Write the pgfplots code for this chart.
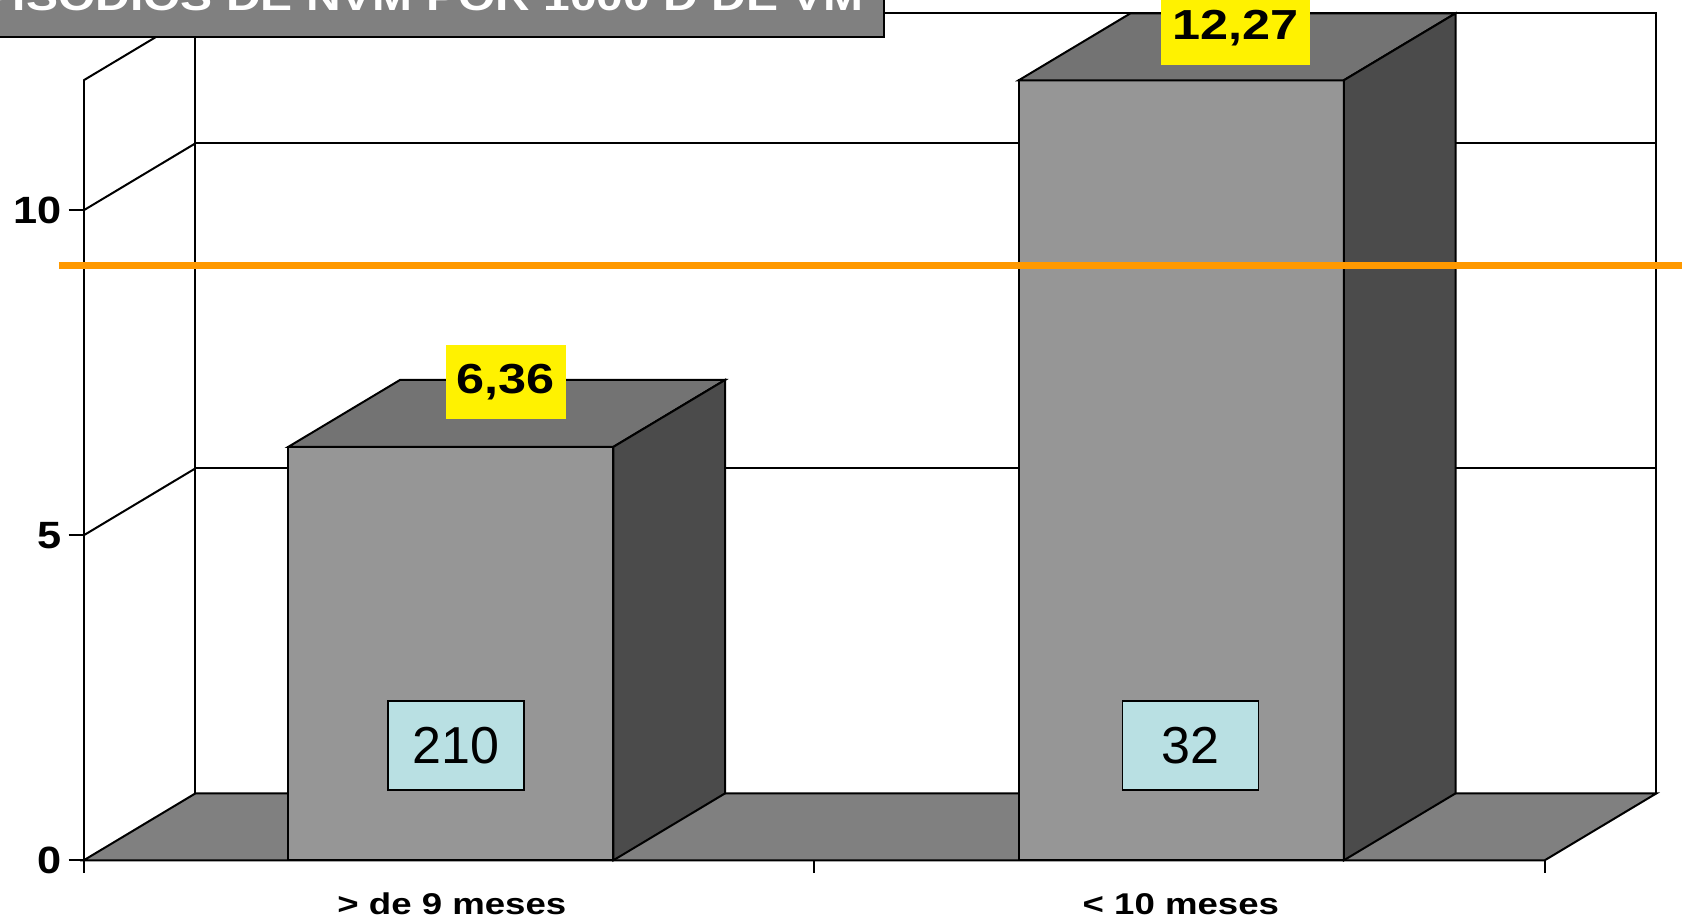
\documentclass[border=0pt]{standalone}
\usepackage{fontspec}
\setmainfont{Liberation Sans}
\usepackage{graphicx}
\usepackage{pgfplots}
\pgfplotsset{compat=1.18}
\definecolor{barfront}{RGB}{150,150,150}
\definecolor{bartop}{RGB}{115,115,115}
\definecolor{barside}{RGB}{75,75,75}
\definecolor{floorc}{RGB}{128,128,128}
\definecolor{labelblue}{RGB}{185,224,227}
\definecolor{refline}{RGB}{255,153,0}
\definecolor{titlebox}{RGB}{128,128,128}
\begin{document}
\begin{tikzpicture}
\begin{axis}[
  scale only axis, width=841pt, height=458.5pt,
  xmin=-0.1146, xmax=2.188, ymin=-0.872, ymax=13.235,
  hide axis, clip=true,
]
% back wall
\addplot[draw=black, line width=1pt] coordinates {(0.153,1.03) (0.153,13.03) (2.153,13.03) (2.153,1.03)};
\addplot[draw=black, line width=1pt] coordinates {(0.153,6.03) (2.153,6.03)};
\addplot[draw=black, line width=1pt] coordinates {(0.153,11.03) (2.153,11.03)};
% side wall grid lines
\addplot[draw=black, line width=1pt] coordinates {(0,5) (0.153,6.03)};
\addplot[draw=black, line width=1pt] coordinates {(0,10) (0.153,11.03)};
\addplot[draw=black, line width=1pt] coordinates {(0,12) (0.153,13.03)};
% front y axis and ticks
\addplot[draw=black, line width=1pt] coordinates {(0,0) (0,12)};
\addplot[draw=black, line width=1pt] coordinates {(-0.0205,0) (0,0)};
\addplot[draw=black, line width=1pt] coordinates {(-0.0205,5) (0,5)};
\addplot[draw=black, line width=1pt] coordinates {(-0.0205,10) (0,10)};
% floor
\addplot[fill=floorc, draw=black, line width=1pt] coordinates {(0,0) (2,0) (2.153,1.03) (0.153,1.03)} --cycle;
% x ticks
\addplot[draw=black, line width=1pt] coordinates {(0,0) (0,-0.2)};
\addplot[draw=black, line width=1pt] coordinates {(1,0) (1,-0.2)};
\addplot[draw=black, line width=1pt] coordinates {(2,0) (2,-0.2)};
% bar 1 (6.36)
\addplot[fill=barfront, draw=black, line width=1pt] coordinates {(0.28,0) (0.725,0) (0.725,6.36) (0.28,6.36)} --cycle;
\addplot[fill=bartop, draw=black, line width=1pt] coordinates {(0.28,6.36) (0.725,6.36) (0.878,7.39) (0.433,7.39)} --cycle;
\addplot[fill=barside, draw=black, line width=1pt] coordinates {(0.725,0) (0.878,1.03) (0.878,7.39) (0.725,6.36)} --cycle;
% bar 2 (12.27, clipped at axis max 12)
\addplot[fill=barfront, draw=black, line width=1pt] coordinates {(1.28,0) (1.725,0) (1.725,12) (1.28,12)} --cycle;
\addplot[fill=bartop, draw=black, line width=1pt] coordinates {(1.28,12) (1.725,12) (1.878,13.03) (1.433,13.03)} --cycle;
\addplot[fill=barside, draw=black, line width=1pt] coordinates {(1.725,0) (1.878,1.03) (1.878,13.03) (1.725,12)} --cycle;
% reference line
\addplot[draw=refline, line width=3.85pt] coordinates {(-0.034,9.15) (2.4,9.15)};
% value labels
\node[fill=yellow, inner sep=0pt, minimum width=60pt, minimum height=37pt, font=\fontsize{21}{24}\selectfont\bfseries] at (axis cs:0.578,7.36) {\scalebox{1.2}[1]{6,36}};
\node[fill=yellow, inner sep=0pt, minimum width=74.5pt, minimum height=37pt, font=\fontsize{21}{24}\selectfont\bfseries] at (axis cs:1.5767,12.805) {\scalebox{1.2}[1]{12,27}};
% count labels
\node[fill=labelblue, draw=black, line width=0.75pt, inner sep=0pt, minimum width=68pt, minimum height=44.5pt, font=\fontsize{26}{30}\selectfont] at (axis cs:0.5097,1.766) {210};
\node[fill=labelblue, draw=black, line width=0.75pt, inner sep=0pt, minimum width=68pt, minimum height=44.5pt, font=\fontsize{26}{30}\selectfont] at (axis cs:1.515,1.766) {32};
% y tick labels
\node[anchor=east, inner sep=0pt, font=\fontsize{19}{22}\selectfont\bfseries] at (axis cs:-0.0297,0) {\scalebox{1.14}[1]{0}};
\node[anchor=east, inner sep=0pt, font=\fontsize{19}{22}\selectfont\bfseries] at (axis cs:-0.0297,5) {\scalebox{1.14}[1]{5}};
\node[anchor=east, inner sep=0pt, font=\fontsize{19}{22}\selectfont\bfseries] at (axis cs:-0.0297,10) {\scalebox{1.14}[1]{10}};
% category labels
\node[anchor=base, inner sep=0pt, font=\fontsize{15}{18}\selectfont\bfseries] at (axis cs:0.504,-0.826) {\scalebox{1.22}[1]{> de 9 meses}};
\node[anchor=base, inner sep=0pt, font=\fontsize{15}{18}\selectfont\bfseries] at (axis cs:1.502,-0.826) {\scalebox{1.22}[1]{< 10 meses}};
\end{axis}
% title box (cut at top and left)
\begin{scope}
\clip (current axis.south west) rectangle (current axis.north east);
\fill[titlebox] ([xshift=-20pt,yshift=40pt]current axis.north west) rectangle ([xshift=442pt,yshift=-18.5pt]current axis.north west);
\draw[black, line width=1.2pt] ([xshift=-20pt,yshift=-18.5pt]current axis.north west) -- ([xshift=442pt,yshift=-18.5pt]current axis.north west) -- ([xshift=442pt,yshift=40pt]current axis.north west);
\node[anchor=base east, inner sep=0pt, text=white, font=\fontsize{20}{24}\selectfont\bfseries] at ([xshift=432pt,yshift=-5.5pt]current axis.north west) {\scalebox{1.2}[1]{EPISODIOS DE NVM POR 1000 D DE VM}};
\end{scope}
\pgfresetboundingbox
\useasboundingbox (current axis.south west) rectangle (current axis.north east);
\end{tikzpicture}
\end{document}
